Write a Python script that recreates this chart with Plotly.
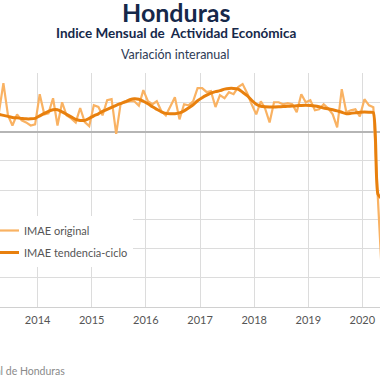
import pandas as pd
import plotly.graph_objects as go

# Monthly dates (Jan 2013 - Apr 2020), points placed mid-month
start_month = "2013-01-15"
n_months = 88

imae_original = [
    3.62, 2.24, 3.28, 8.28, 2.76, 1.03, 2.93, 1.90, 1.55, 1.03, 1.21, 6.38,   # 2013
    2.93, 3.10, 5.69, 1.03, 5.00, 2.76, 2.24, 1.55, 4.02, 1.60, 0.91, 4.48,   # 2014
    4.19, 2.76, 5.34, 5.52, -0.40, 4.78, 4.95, 5.17, 5.17, 4.40, 7.07, 5.17,  # 2015
    4.66, 5.17, 3.45, 2.76, 4.31, 5.86, 2.07, 4.66, 4.48, 5.17, 7.41, 7.41,   # 2016
    6.72, 6.90, 4.19, 6.21, 5.69, 6.72, 6.38, 7.59, 8.10, 6.55, 4.66, 2.93,   # 2017
    5.17, 3.97, 1.55, 5.00, 5.00, 4.66, 4.83, 4.66, 3.28, 6.38, 5.00, 5.34,   # 2018
    3.62, 3.79, 4.66, 3.97, 2.93, 0.69, 7.24, 3.28, 3.62, 3.79, 2.59, 5.52,   # 2019
    4.48, 4.14, -11.55, -26.21,                                               # 2020
]

imae_tendencia = [
    3.28, 3.10, 2.93, 2.76, 2.59, 2.41, 2.33, 2.24, 2.16, 2.16, 2.24, 2.67,   # 2013
    3.10, 3.45, 3.71, 3.71, 3.36, 2.93, 2.50, 2.07, 1.90, 1.90, 2.24, 2.67,   # 2014
    3.02, 3.45, 3.79, 4.14, 4.48, 4.78, 5.09, 5.43, 5.60, 5.52, 5.17, 4.74,   # 2015
    4.22, 3.79, 3.36, 3.10, 3.05, 3.05, 3.19, 3.53, 4.02, 4.57, 5.26, 5.78,   # 2016
    6.21, 6.55, 6.81, 6.98, 7.24, 7.36, 7.36, 7.24, 6.72, 6.12, 5.34, 4.66,   # 2017
    4.31, 4.22, 4.19, 4.19, 4.22, 4.26, 4.31, 4.34, 4.40, 4.45, 4.48, 4.45,   # 2018
    4.36, 4.22, 4.02, 3.88, 3.71, 3.53, 3.28, 3.05, 3.10, 3.19, 3.28, 3.33,   # 2019
    3.28, 3.22, -10.70, -11.55,                                               # 2020
]

series_names = ["IMAE original", "IMAE tendencia-ciclo"]
title_text = "Honduras"
subtitle_text = "Indice Mensual de  Actividad Económica"
subsubtitle_text = "Variación interanual"
source_text = "Fuente: Banco Central de Honduras"

dates = pd.date_range(start_month, periods=n_months, freq="MS") + pd.Timedelta(days=14)

FONT = "Lato"
NAVY = "#16284a"

fig = go.Figure()
fig.add_trace(go.Scatter(
    x=dates, y=imae_original, mode="lines", name=series_names[0],
    legendgroup="a",
    line=dict(color="#F9B263", width=2.2),
))
fig.add_trace(go.Scatter(
    x=dates, y=imae_tendencia, mode="lines", name=series_names[1],
    legendgroup="b",
    line=dict(color="#E8800E", width=3, shape="spline", smoothing=0.6),
))

W = 380.0
T, B = 73, 73
PH = 380 - T - B

def py(p):
    return 1 - (p - T) / PH

fig.update_layout(
    width=380, height=380,
    margin=dict(l=0, r=0, t=T, b=B, pad=0, autoexpand=False),
    paper_bgcolor="white", plot_bgcolor="white",
    font=dict(family=FONT, color="#555555", size=11),
    showlegend=True,
    legend=dict(
        x=-16 / W, y=py(216), xanchor="left", yanchor="top",
        bgcolor="white", borderwidth=0,
        font=dict(family=FONT, size=11, color="#555555"),
        tracegroupgap=3, itemwidth=30,
    ),
    xaxis=dict(
        type="date",
        range=["2013-04-22", "2020-04-29"],
        tick0="2014-01-01", dtick="M12", tickformat="%Y",
        showgrid=True, gridcolor="#dcdcdc", gridwidth=1,
        showline=True, linecolor="#d0d0d0", linewidth=1,
        ticks="", ticklabelstandoff=3,
        tickfont=dict(family=FONT, size=11, color="#555555"),
        zeroline=False,
    ),
    yaxis=dict(
        range=[-30, 10], dtick=5, tick0=0,
        showgrid=True, gridcolor="#dcdcdc", gridwidth=1,
        zeroline=True, zerolinecolor="#b5b5b5", zerolinewidth=1.5,
        showticklabels=False, ticks="",
    ),
    annotations=[
        dict(text="<b>" + title_text + "</b>", x=176 / W, y=py(12), xref="paper", yref="paper",
             xanchor="center", yanchor="middle", showarrow=False,
             font=dict(family=FONT, size=25, color=NAVY)),
        dict(text="<b>" + subtitle_text + "</b>", x=176 / W, y=py(33), xref="paper", yref="paper",
             xanchor="center", yanchor="middle", showarrow=False,
             font=dict(family=FONT, size=13.5, color=NAVY)),
        dict(text=subsubtitle_text, x=175 / W, y=py(54), xref="paper", yref="paper",
             xanchor="center", yanchor="middle", showarrow=False,
             font=dict(family=FONT, size=12.5, color="#2e3a55")),
        dict(text=source_text, x=67 / W, y=py(371), xref="paper", yref="paper",
             xanchor="right", yanchor="middle", showarrow=False,
             font=dict(family=FONT, size=10.5, color="#8a8a8a")),
    ],
)

fig.write_html(
    "out.html",
    config={"displayModeBar": False},
    post_script="document.body.style.margin='0';document.body.style.overflow='hidden';",
)
